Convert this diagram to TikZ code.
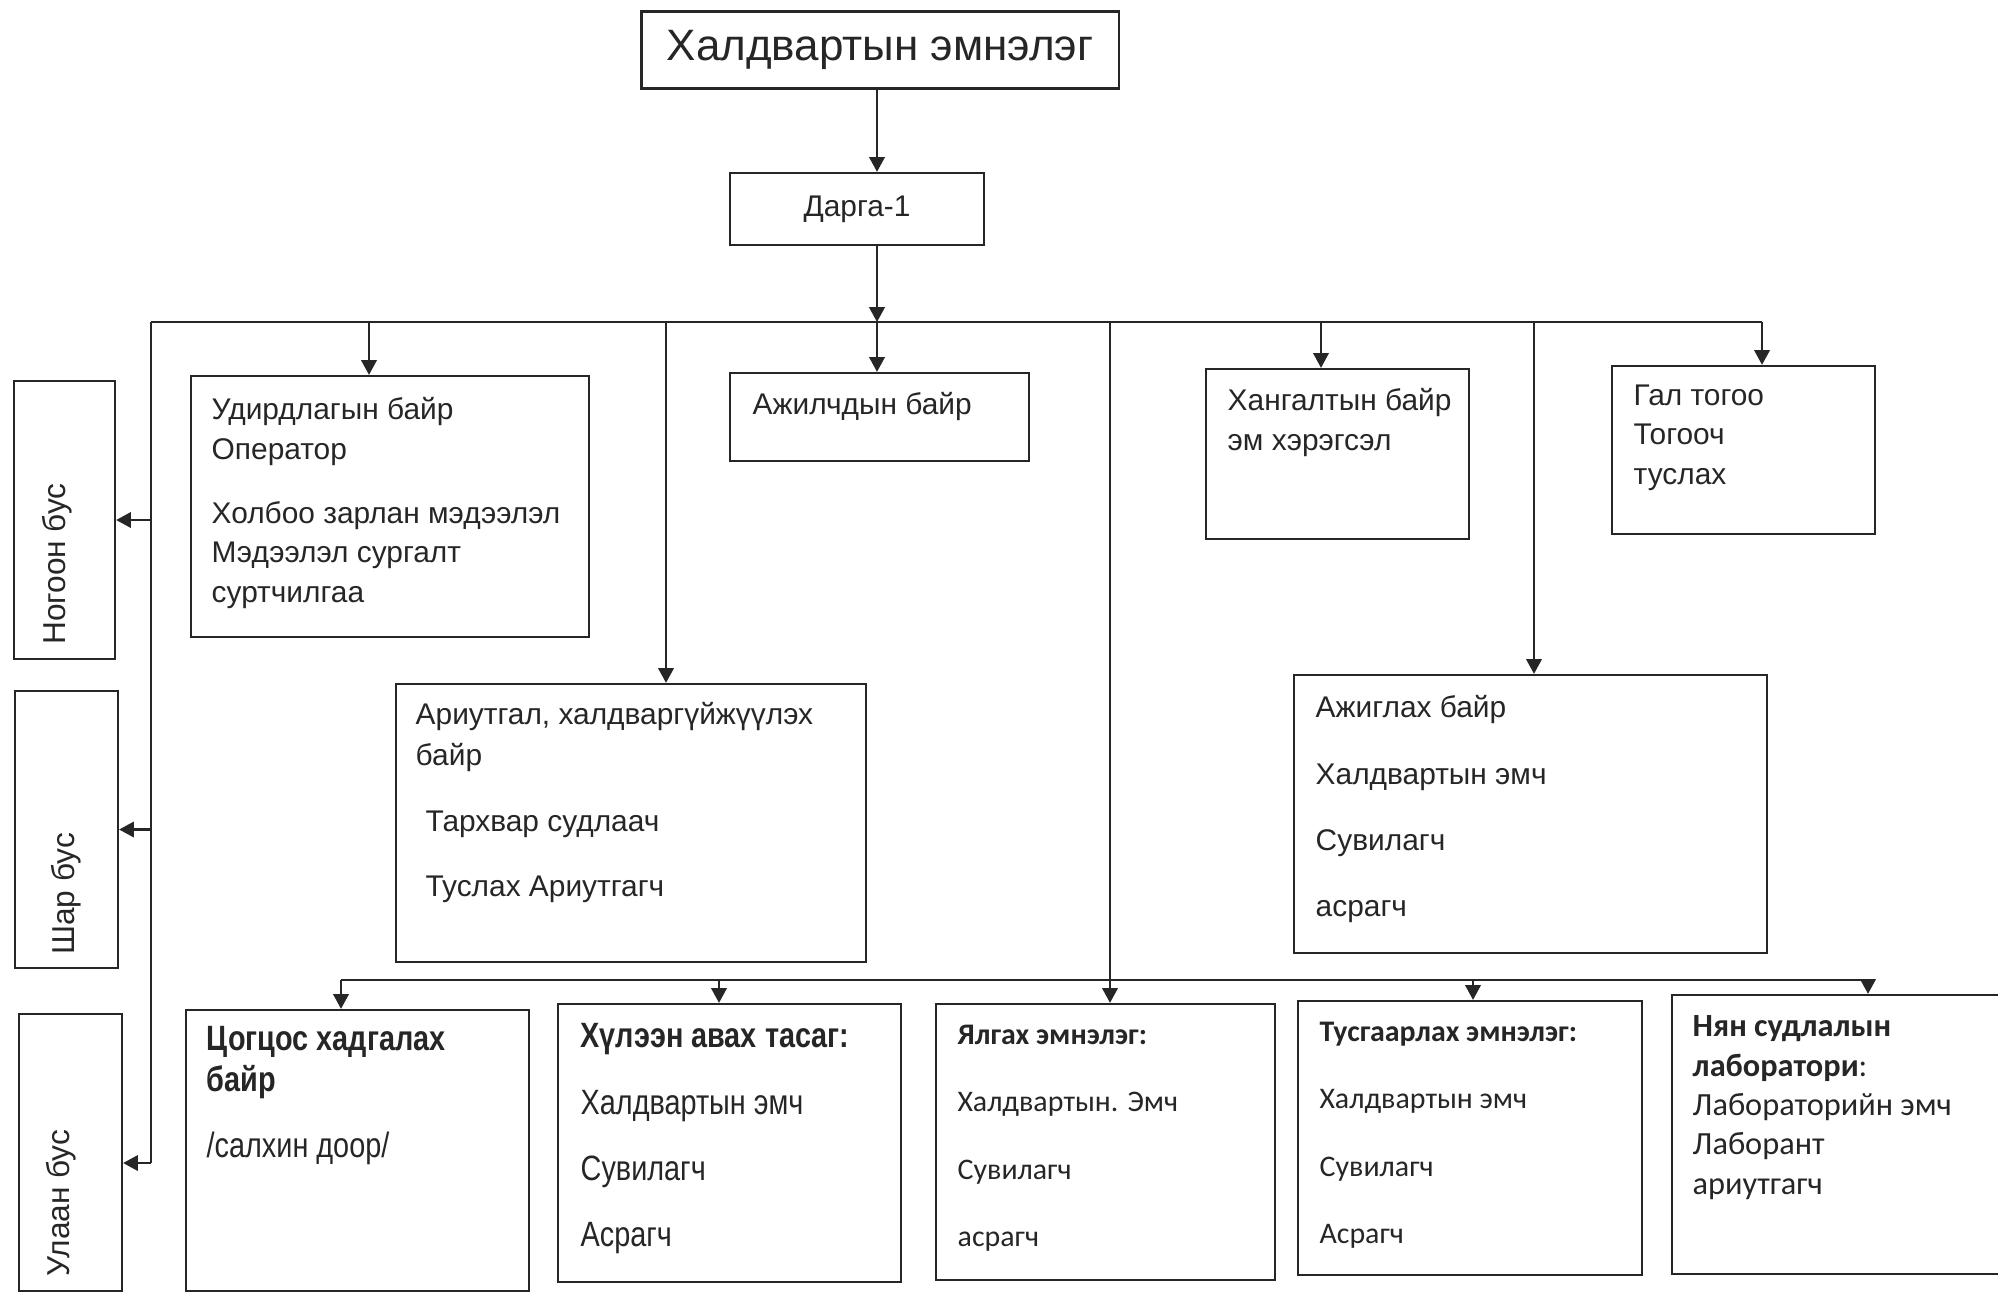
\documentclass[tikz,border=0pt]{standalone}
\usepackage{fontspec}
\setmainfont{Liberation Sans}
\newfontfamily\narrowfont[FakeStretch=0.82]{Liberation Sans}
\newfontfamily\calfont{Carlito}
\usetikzlibrary{arrows.meta,fit}

\begin{document}
\begin{tikzpicture}[x=0.01cm, y=-0.01cm, black!85,
  unit/.style={draw, rectangle, inner sep=0pt, line width=0.65pt},
  txt/.style={anchor=north west, inner sep=0pt, align=left, font=\fontsize{8.5}{11.2}\selectfont},
  arr/.style={-{Triangle[length=4.2pt,width=4.4pt]}, line width=0.6pt}]
\useasboundingbox (0,0) rectangle (1998,1296);

% top of the chart
\node[unit, minimum width=4.77cm, minimum height=0.77cm, font=\fontsize{12.5}{15}\selectfont] (clinic) at (880,50) {Халдвартын эмнэлэг};
\node[unit, minimum width=2.54cm, minimum height=0.72cm, font=\fontsize{8.5}{11}\selectfont] (darga) at (857,209) {Дарга-1};

% side boxes
\node[unit, fit={(14,381) (115,659)}] (green) {};
\node[unit, fit={(15,691) (118,968)}] (yellow) {};
\node[unit, fit={(19,1014) (122,1291)}] (red) {};
\node[rotate=90, font=\fontsize{9}{11}\selectfont] (greentext) at (57,564) {Ногоон бус};
\node[rotate=90, font=\fontsize{9}{11}\selectfont] (yellowtext) at (66,894) {Шар бус};
\node[rotate=90, font=\fontsize{9}{11}\selectfont] (redtext) at (61,1203) {Улаан бус};

% first row
\node[unit, fit={(191,376) (589,637)}] (udir) {};
\node[unit, fit={(730,373) (1029,461)}] (ajil) {};
\node[unit, fit={(1206,369) (1469,539)}] (hang) {};
\node[unit, fit={(1612,366) (1875,534)}] (gal) {};
\node[txt] (udirtext) at (211,397) {Удирдлагын байр\\Оператор\\[7pt]Холбоо зарлан мэдээлэл\\Мэдээлэл сургалт\\суртчилгаа};
\node[txt] (ajiltext) at (752,392) {Ажилчдын байр};
\node[txt] (hangtext) at (1227,388) {Хангалтын байр\\эм хэрэгсэл};
\node[txt] (galtext) at (1633,384) {Гал тогоо\\Тогооч\\туслах};

% second row
\node[unit, fit={(396,684) (866,962)}] (ariut) {};
\node[unit, fit={(1294,675) (1767,953)}] (ajig) {};
\node[txt, font=\fontsize{8.5}{11.6}\selectfont] (ariuttext) at (415,702) {Ариутгал, халдваргүйжүүлэх\\байр\\[7pt]\hspace{2.8pt}Тархвар судлаач\\[7pt]\hspace{2.8pt}Туслах Ариутгагч};
\node[txt, font=\fontsize{8.5}{18.8}\selectfont] (ajigtext) at (1315,695) {Ажиглах байр\\Халдвартын эмч\\Сувилагч\\асрагч};

% bottom row
\node[unit, fit={(186,1010) (529,1291)}] (tsog) {};
\node[unit, fit={(558,1004) (901,1282)}] (hulee) {};
\node[unit, fit={(936,1004) (1275,1280)}] (yalg) {};
\node[unit, fit={(1298,1001) (1642,1275)}] (tusg) {};
\node[unit, fit={(1672,995) (2010,1274)}] (lab) {};
\node[txt, font=\narrowfont\fontsize{10}{11.6}\selectfont] (tsogtext) at (206,1026) {\textbf{Цогцос хадгалах}\\\textbf{байр}\\[7pt]/салхин доор/};
\node[txt, font=\narrowfont\fontsize{10}{18.8}\selectfont] (huleetext) at (580,1023) {\textbf{Хүлээн авах тасаг:}\\Халдвартын эмч\\Сувилагч\\Асрагч};
\node[txt, font=\calfont\fontsize{8.5}{19.2}\selectfont] (yalgtext) at (957,1024) {\textbf{Ялгах эмнэлэг:}\\Халдвартын. Эмч\\Сувилагч\\асрагч};
\node[txt, font=\calfont\fontsize{8.5}{19.2}\selectfont] (tusgtext) at (1319,1021) {\textbf{Тусгаарлах эмнэлэг:}\\Халдвартын эмч\\Сувилагч\\Асрагч};
\node[txt, font=\calfont\fontsize{9.2}{11.2}\selectfont] (labtext) at (1692,1015) {\textbf{Нян судлалын}\\\textbf{лаборатори}:\\Лабораторийн эмч\\Лаборант\\ариутгагч};

% upper bus
\coordinate (jL) at (151,322);
\coordinate (jUd) at (369,322);
\coordinate (jAr) at (666,322);
\coordinate (jMid) at (877,322);
\coordinate (jTr) at (1110,322);
\coordinate (jHa) at (1321,322);
\coordinate (jAz) at (1534,322);
\coordinate (jR) at (1762,322);
\coordinate (trunkEnd) at (151,1163);

\draw[arr] (clinic.south -| jMid) -- (darga.north -| jMid);
\draw[arr] (darga.south -| jMid) -- (jMid);
\draw[line width=0.6pt] (jL) -- (jR);
\draw[line width=0.6pt] (jL) -- (trunkEnd);
\draw[arr] (jL |- green.east) -- (green.east);
\draw[arr] (jL |- yellow.east) -- (yellow.east);
\draw[arr] (trunkEnd) -- (trunkEnd -| red.east);
\draw[arr] (jUd) -- (jUd |- udir.north);
\draw[arr] (jAr) -- (jAr |- ariut.north);
\draw[arr] (jMid) -- (jMid |- ajil.north);
\draw[arr] (jHa) -- (jHa |- hang.north);
\draw[arr] (jAz) -- (jAz |- ajig.north);
\draw[arr] (jR) -- (jR |- gal.north);
\draw[arr] (jTr) -- (jTr |- yalg.north);

% lower bus
\coordinate (kL) at (341,980);
\coordinate (kHu) at (719,980);
\coordinate (kTu) at (1473,980);
\coordinate (kR) at (1868,980);
\draw[line width=0.6pt] (kL) -- (kR);
\draw[arr] (kL) -- (kL |- tsog.north);
\draw[arr] (kHu) -- (kHu |- hulee.north);
\draw[arr] (kTu) -- (kTu |- tusg.north);
\draw[arr] (kR) -- (kR |- lab.north);
\end{tikzpicture}
\end{document}
